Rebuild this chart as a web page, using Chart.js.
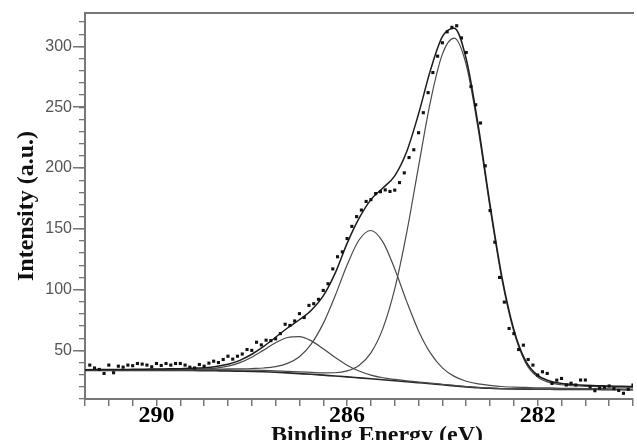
<!DOCTYPE html>
<html>
<head>
<meta charset="utf-8">
<script src="https://cdn.jsdelivr.net/npm/chart.js@4.4.1/dist/chart.umd.min.js"></script>
<style>
  html, body { margin: 0; padding: 0; background: #fff; }
  #box { width: 637px; height: 440px; }
</style>
</head>
<body>
<div id="box"><canvas id="myChart" width="637" height="440"></canvas></div>
<script>
// binding energy grid (eV) of the fitted curves
var energy = [291.5, 291.25, 291, 290.75, 290.5, 290.25, 290, 289.75, 289.5, 289.25, 289, 288.75,
  288.5, 288.25, 288, 287.75, 287.5, 287.25, 287, 286.75, 286.5, 286.25, 286, 285.75, 285.5, 285.25,
  285, 284.75, 284.5, 284.25, 284, 283.75, 283.5, 283.25, 283, 282.75, 282.5, 282.25, 282, 281.75,
  281.5, 281.25, 281, 280.75, 280.5, 280.25, 280];

// shirley background
var background = [33.5, 33.5, 33.5, 33.5, 33.5, 33.5, 33.5, 33.5, 33.4, 33.4, 33.3, 33.2,
  33.1, 32.9, 32.7, 32.4, 32.0, 31.5, 30.9, 30.3, 29.6, 28.9, 28.2, 27.4, 26.6, 25.8,
  25.0, 24.2, 23.4, 22.6, 21.7, 20.8, 20.0, 19.3, 18.8, 18.4, 18.2, 18.1, 18.0, 18.0,
  17.9, 17.9, 17.8, 17.8, 17.7, 17.7, 17.6];

// fitted components (drawn on top of the background)
var peak284 = [33.8, 33.8, 33.8, 33.8, 33.8, 33.8, 33.9, 33.9, 33.8, 33.9, 33.9, 33.9,
  33.9, 33.8, 33.7, 33.5, 33.2, 32.8, 32.3, 31.9, 31.5, 31.6, 33.1, 37.6, 47.9, 67.9,
  100.5, 146.6, 201.4, 254.9, 293.7, 306.8, 284.8, 232.1, 167.2, 108.2, 65.3, 39.5, 28.0, 23.5,
  21.7, 20.9, 20.4, 20.2, 19.9, 19.8, 19.6];
var peak285 = [33.9, 33.9, 34.0, 34.0, 34.1, 34.2, 34.3, 34.3, 34.3, 34.5, 34.5, 34.6,
  34.7, 34.8, 35.1, 35.5, 36.6, 39.3, 44.8, 55.4, 72.2, 95.0, 120.2, 140.8, 148.6, 139.2,
  117.0, 90.3, 66.0, 47.7, 35.6, 28.6, 24.6, 22.4, 21.2, 20.3, 19.8, 19.5, 19.2, 19.1,
  18.8, 18.7, 18.6, 18.5, 18.3, 18.2, 18.1];
var peak287 = [33.7, 33.7, 33.8, 33.8, 33.8, 33.9, 33.9, 34.0, 34.0, 34.2, 34.6, 35.4,
  37.0, 39.9, 44.4, 50.2, 56.2, 60.6, 61.3, 57.8, 51.3, 44.2, 37.8, 33.0, 29.7, 27.5,
  26.1, 24.9, 24.0, 23.1, 22.1, 21.2, 20.3, 19.6, 19.1, 18.6, 18.4, 18.3, 18.2, 18.2,
  18.1, 18.1, 18.0, 17.9, 17.8, 17.8, 17.7];

// sum of the fit
var envelope = [34.1, 34.2, 34.3, 34.3, 34.4, 34.5, 34.7, 34.8, 34.9, 35.3, 35.8, 36.8,
  38.6, 41.8, 46.8, 53.3, 60.8, 68.4, 75.2, 83.0, 94.8, 113.5, 138.0, 158.5, 174.0, 183.5,
  193.6, 213.4, 244.6, 280.5, 308.0, 315.0, 289.7, 235.5, 169.9, 110.3, 67.1, 41.1, 29.4, 24.8,
  22.8, 21.9, 21.3, 21.0, 20.6, 20.5, 20.2];

// measured spectrum
var pointEnergy = [291.4, 291.3, 291.2, 291.1, 291.0, 290.9, 290.8, 290.7, 290.6, 290.5,
  290.4, 290.3, 290.2, 290.1, 290.0, 289.9, 289.8, 289.7, 289.6, 289.5,
  289.4, 289.3, 289.2, 289.1, 289.0, 288.9, 288.8, 288.7, 288.6, 288.5,
  288.4, 288.3, 288.2, 288.1, 288.0, 287.9, 287.8, 287.7, 287.6, 287.5,
  287.4, 287.3, 287.2, 287.1, 287.0, 286.9, 286.8, 286.7, 286.6, 286.5,
  286.4, 286.3, 286.2, 286.1, 286.0, 285.9, 285.8, 285.7, 285.6, 285.5,
  285.4, 285.3, 285.2, 285.1, 285.0, 284.9, 284.8, 284.7, 284.6, 284.5,
  284.4, 284.3, 284.2, 284.1, 284.0, 283.9, 283.8, 283.7, 283.6, 283.5,
  283.4, 283.3, 283.2, 283.1, 283.0, 282.9, 282.8, 282.7, 282.6, 282.5,
  282.4, 282.3, 282.2, 282.1, 282.0, 281.9, 281.8, 281.7, 281.6, 281.5,
  281.4, 281.3, 281.2, 281.1, 281.0, 280.9, 280.8, 280.7, 280.6, 280.5,
  280.4, 280.3, 280.2, 280.1, 280.0];
var pointIntensity = [37.9, 35.5, 34.3, 31.0, 37.9, 31.6, 37.0, 36.2, 37.9, 37.4,
  39.2, 38.7, 37.9, 36.5, 39.2, 37.6, 39.2, 37.9, 39.2, 39.2,
  37.9, 36.2, 35.5, 38.4, 37.0, 39.5, 41.1, 40.0, 42.5, 45.2,
  42.8, 45.2, 47.0, 50.7, 50.0, 56.7, 54.5, 58.4, 58.0, 59.5,
  63.8, 71.5, 70.5, 74.2, 80.2, 77.0, 87.0, 88.4, 92.0, 99.3,
  104.8, 117.0, 127.0, 131.0, 142.0, 152.0, 160.0, 165.4, 172.5, 174.0,
  179.0, 180.5, 182.0, 180.7, 181.8, 188.0, 196.0, 208.6, 215.0, 229.0,
  245.5, 262.0, 278.5, 292.0, 303.0, 312.0, 315.7, 317.0, 307.0, 295.0,
  267.0, 252.0, 237.0, 201.8, 165.0, 139.0, 110.0, 89.7, 68.0, 63.8,
  50.7, 54.3, 42.5, 37.9, 29.7, 32.4, 31.0, 22.8, 25.5, 26.9,
  21.5, 23.0, 21.5, 25.6, 25.6, 20.0, 16.8, 19.0, 19.6, 20.7,
  18.5, 17.0, 14.7, 18.0, 21.5];

var xLabels = [290, 286, 282];
var yLabels = [50, 100, 150, 200, 250, 300];
var xTitle = 'Binding Energy (eV)';
var yTitle = 'Intensity (a.u.)';

function pairs(xs, ys) {
  return xs.map(function (x, i) { return { x: x, y: ys[i] }; });
}

function curve(label, ys, color, width) {
  return {
    label: label,
    data: pairs(energy, ys),
    borderColor: color,
    borderWidth: width,
    pointRadius: 0,
    fill: false,
    cubicInterpolationMode: 'monotone'
  };
}

// x title sits a bit right of the plot centre in the original
var xTitlePlugin = {
  id: 'xTitle',
  afterDraw: function (chart) {
    var ctx = chart.ctx, area = chart.chartArea;
    ctx.save();
    ctx.font = 'bold 24px "Liberation Serif", "Times New Roman", serif';
    ctx.fillStyle = '#111';
    ctx.textAlign = 'center';
    ctx.textBaseline = 'alphabetic';
    ctx.fillText(xTitle, (area.left + area.right) / 2 + 18, chart.height + 2);
    ctx.restore();
  }
};

var axisGray = '#777';

var ctx = document.getElementById('myChart').getContext('2d');
var chart = new Chart(ctx, {
  type: 'line',
  data: {
    datasets: [
      {
        label: 'data',
        data: pairs(pointEnergy, pointIntensity),
        showLine: false,
        pointStyle: 'rect',
        pointRadius: 2.2,
        pointBorderWidth: 0,
        pointBackgroundColor: '#111'
      },
      curve('fit', envelope, '#1c1c1c', 1.5),
      curve('C-C', peak284, '#4a4a4a', 1.2),
      curve('C-O', peak285, '#4a4a4a', 1.2),
      curve('C=O', peak287, '#4a4a4a', 1.2),
      curve('background', background, '#262626', 1.6)
    ]
  },
  plugins: [xTitlePlugin],
  options: {
    responsive: false,
    animation: false,
    devicePixelRatio: 1,
    layout: { padding: { top: 13, right: 1, left: 0, bottom: 0 } },
    plugins: {
      legend: { display: false },
      tooltip: { enabled: false }
    },
    scales: {
      x: {
        type: 'linear',
        position: 'bottom',
        reverse: true,
        min: 280,
        max: 291.5,
        ticks: {
          stepSize: 0.5,
          autoSkip: false,
          maxRotation: 0,
          padding: -5,
          color: '#000',
          font: { family: '"Liberation Serif", "Times New Roman", serif', size: 24, weight: 'bold' },
          callback: function (v) { return xLabels.indexOf(v) >= 0 ? String(v) : ''; }
        },
        grid: { drawOnChartArea: false, tickLength: 7, color: axisGray, lineWidth: 1.5 },
        border: { color: axisGray, width: 2 },
        afterFit: function (s) { s.height = 41; }
      },
      xTop: {
        type: 'linear',
        position: 'top',
        reverse: true,
        min: 280,
        max: 291.5,
        ticks: { display: false },
        grid: { display: false },
        border: { color: axisGray, width: 2 },
        afterFit: function (s) { s.height = 0; }
      },
      y: {
        type: 'linear',
        position: 'left',
        weight: 10,
        min: 10,
        max: 327.5,
        ticks: {
          stepSize: 50,
          includeBounds: false,
          padding: 1,
          color: '#555',
          font: { family: '"Liberation Sans", Arial, sans-serif', size: 16 },
          callback: function (v) { return yLabels.indexOf(v) >= 0 ? String(v) : ''; }
        },
        grid: { drawOnChartArea: false, tickLength: 12, color: axisGray, lineWidth: 1.5 },
        border: { color: axisGray, width: 2 },
        title: {
          display: true,
          text: yTitle,
          color: '#111',
          font: { family: '"Liberation Serif", "Times New Roman", serif', size: 24, weight: 'bold' },
          padding: { top: 12, bottom: 0 }
        },
        afterFit: function (s) { s.width = 85; }
      },
      yMinor: {
        type: 'linear',
        position: 'left',
        weight: 0,
        min: 10,
        max: 327.5,
        ticks: { display: false, stepSize: 10, includeBounds: false },
        grid: { drawOnChartArea: false, tickLength: 6, color: axisGray, lineWidth: 1.3 },
        border: { display: false },
        afterFit: function (s) { s.width = 0; }
      }
    }
  }
});
</script>
</body>
</html>
